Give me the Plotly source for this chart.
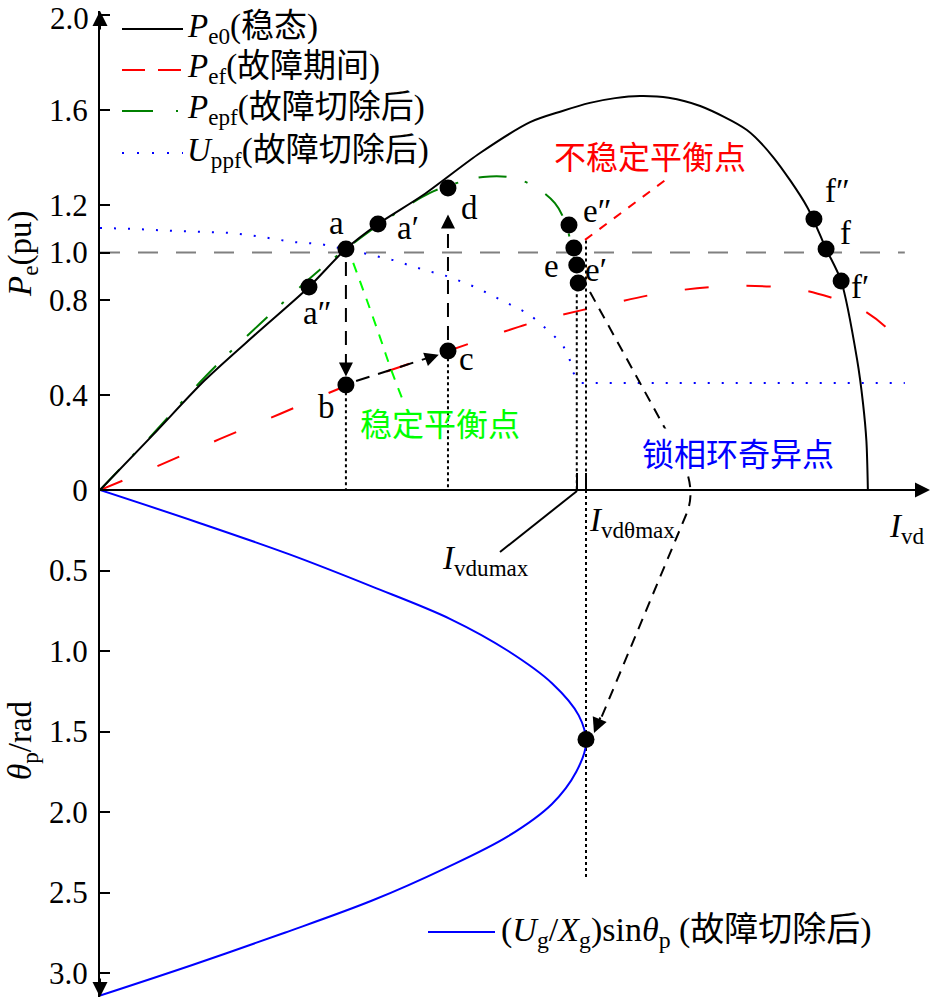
import plotly.graph_objects as go

# ---------------- data ----------------
# Ivd axis is normalised so that I_vd(theta max) = 1.0
pe0_ivd = [0, 0.109, 0.216, 0.323, 0.430, 0.506, 0.572, 0.665, 0.782, 0.885, 0.95, 1.008, 1.06,
           1.111, 1.17, 1.235, 1.331, 1.385, 1.455, 1.494, 1.525, 1.558, 1.570, 1.577, 1.580]
pe0_p = [0, 0.232, 0.463, 0.661, 0.855, 1.015, 1.12, 1.242, 1.419, 1.549, 1.595, 1.630, 1.650,
         1.659, 1.652, 1.617, 1.516, 1.402, 1.192, 1.015, 0.880, 0.547, 0.365, 0.205, 0]

pef_ivd = [0, 0.123, 0.247, 0.370, 0.506, 0.617, 0.716, 0.823, 0.909, 1.039, 1.169, 1.300,
           1.434, 1.508, 1.558, 1.617, 1.656]
pef_p = [0, 0.105, 0.215, 0.320, 0.438, 0.518, 0.585, 0.661, 0.716, 0.779, 0.834, 0.859,
         0.846, 0.808, 0.771, 0.686, 0.589]

pepf_ivd = [0, 0.109, 0.216, 0.329, 0.447, 0.506, 0.588, 0.679, 0.735, 0.788, 0.840, 0.885,
            0.936, 0.959, 0.975]
pepf_p = [0, 0.236, 0.476, 0.699, 0.918, 1.015, 1.137, 1.251, 1.293, 1.318, 1.318, 1.288,
          1.208, 1.116, 0.977]

uppf_ivd = [0, 0.062, 0.150, 0.274, 0.335, 0.397, 0.453, 0.541, 0.603, 0.660, 0.720, 0.776,
            0.829, 0.883, 0.928, 0.951, 0.965, 0.973, 0.988, 1.045, 1.656]
uppf_p = [1.103, 1.100, 1.091, 1.082, 1.065, 1.044, 1.036, 0.998, 0.968, 0.931, 0.897, 0.851,
          0.796, 0.741, 0.661, 0.615, 0.560, 0.497, 0.451, 0.451, 0.451]

ref_ivd = [0, 1.656]
ref_p = [1.0, 1.0]

theta_rad = [0, 0.2, 0.4, 0.6, 0.8, 1.0, 1.2, 1.4, 1.571, 1.75, 1.95, 2.15, 2.35, 2.55, 2.75,
             2.95, 3.14]
theta_ivd = [0, 0.20, 0.39, 0.56, 0.72, 0.84, 0.93, 0.985, 1.0, 0.98, 0.93, 0.84, 0.71, 0.56,
             0.38, 0.19, 0]

pt_names = ["a", "a′", "a″", "b", "c", "d", "e″", "e", "", "e′", "f″", "f", "f′"]
pt_ivd = [0.506, 0.572, 0.430, 0.506, 0.716, 0.716, 0.965, 0.975, 0.981, 0.984, 1.469, 1.494, 1.525]
pt_p = [1.015, 1.12, 0.855, 0.442, 0.585, 1.272, 1.116, 1.019, 0.947, 0.872, 1.141, 1.015, 0.880]

sing_ivd = [1.0]
sing_theta = [1.55]

ivd_umax = 0.981
ivd_thmax = 1.0

top_ticks = [0, 0.4, 0.8, 1.0, 1.2, 1.6, 2.0]
top_ticktext = ["0", "0.4", "0.8", "1.0", "1.2", "1.6", ""]   # "2.0" drawn as annotation
top_label = "2.0"
bot_ticks = [0.5, 1.0, 1.5, 2.0, 2.5, 3.0]
bot_ticktext = ["0.5", "1.0", "1.5", "2.0", "2.5", "3.0"]

# ---------------- layout geometry ----------------
W, H = 931, 1000
X0 = 100     # pixel column of origin
XS = 486     # px per Ivd unit
Y0 = 490     # pixel row of origin
PS = 237.5   # px per pu
TS = 161     # px per rad

SERIF = "Liberation Serif, Times New Roman, Noto Sans CJK SC, serif"
CJK = "Noto Sans CJK SC, sans-serif"


def PX(x):
    return x / W


def PY(y):
    return 1 - y / H


TOP = dict(xaxis="x", yaxis="y")
BOT = dict(xaxis="x2", yaxis="y2")

fig = go.Figure()


def add_line(x, y, color, width=2, dash="solid", shape="linear", axes=TOP, smoothing=1.0):
    fig.add_trace(go.Scatter(x=x, y=y, mode="lines",
                             line=dict(color=color, width=width, dash=dash, shape=shape,
                                       smoothing=smoothing),
                             hoverinfo="skip", showlegend=False, **axes))


# curves (top)
add_line(ref_ivd, ref_p, "#808080", 2, "20px,18px")
add_line(uppf_ivd, uppf_p, "#0000ff", 2, "2px,12px")
add_line(pef_ivd, pef_p, "#ff0000", 2, "24px,38px", "spline")
add_line(pepf_ivd, pepf_p, "#008000", 2, "28px,19px,3px,21px", "spline")
add_line(pe0_ivd, pe0_p, "#000000", 2, "solid", "spline", smoothing=0.8)

# dotted verticals
b_i, c_i = 3, 4
add_line([pt_ivd[b_i]] * 2, [pt_p[b_i] - 0.03, 0], "black", 2, "3px,3px")
add_line([pt_ivd[c_i]] * 2, [pt_p[c_i] - 0.03, 0], "black", 2, "3px,3px")
add_line([ivd_umax] * 2, [0.85, 0], "black", 2, "3px,3px")
add_line([ivd_thmax] * 2, [1.05, 0], "black", 2, "3px,3px")
add_line([ivd_thmax] * 2, [0, 2.41], "black", 2, "3px,3px", axes=BOT)

# dashed transition arrows (a->b, b->c, c->d)
add_line([0.506, 0.506], [0.96, 0.49], "black", 2, "14px,9px")
add_line([0.527, 0.690], [0.459, 0.566], "black", 2, "14px,9px")
add_line([0.716, 0.716], [0.632, 1.14], "black", 2, "14px,9px")

# leader for stable equilibrium (green)
add_line([0.521, 0.549, 0.576, 0.597, 0.623], [0.956, 0.80, 0.644, 0.518, 0.379],
         "#00ff00", 2, "10px,9px", "spline")
# leader for unstable equilibrium (red)
add_line([0.998, 1.163], [1.053, 1.305], "#ff0000", 2, "9px,9px")

# markers
fig.add_trace(go.Scatter(x=pt_ivd, y=pt_p, mode="markers",
                         marker=dict(size=17, color="black"), hoverinfo="skip",
                         showlegend=False, **TOP))

# bottom: theta curve
add_line(theta_ivd, theta_rad, "#0000ff", 2, "solid", "spline", axes=BOT)
fig.add_trace(go.Scatter(x=sing_ivd, y=sing_theta, mode="markers",
                         marker=dict(size=17, color="black"), hoverinfo="skip",
                         showlegend=False, **BOT))

shapes = []
# x axis line
shapes.append(dict(type="line", xref="paper", yref="paper", x0=PX(X0), x1=PX(922),
                   y0=PY(Y0), y1=PY(Y0), line=dict(color="black", width=2)))
# small solid marks at the axis
for xp in (577, 586):
    shapes.append(dict(type="line", xref="paper", yref="paper", x0=PX(xp), x1=PX(xp),
                       y0=PY(473), y1=PY(Y0), line=dict(color="black", width=2)))
# Ivdumax leader
shapes.append(dict(type="line", xref="paper", yref="paper", x0=PX(577), y0=PY(491),
                   x1=PX(500), y1=PY(552), line=dict(color="black", width=2)))
# singular point curved pointer
path = "M {},{} L {},{} Q {},{} {},{} L {},{}".format(
    PX(590), PY(292), PX(678), PY(452), PX(698), PY(488), PX(686), PY(515), PX(597), PY(728))
shapes.append(dict(type="path", xref="paper", yref="paper", path=path,
                   line=dict(color="black", width=2, dash="11px,8px")))

# legend samples
shapes.append(dict(type="line", xref="paper", yref="paper", x0=PX(122), x1=PX(183),
                   y0=PY(29), y1=PY(29), line=dict(color="black", width=2)))
shapes.append(dict(type="line", xref="paper", yref="paper", x0=PX(122), x1=PX(183),
                   y0=PY(70), y1=PY(70), line=dict(color="#ff0000", width=2, dash="23px,13px")))
shapes.append(dict(type="line", xref="paper", yref="paper", x0=PX(122), x1=PX(183),
                   y0=PY(111), y1=PY(111),
                   line=dict(color="#008000", width=2, dash="31px,23px,2px,30px")))
shapes.append(dict(type="line", xref="paper", yref="paper", x0=PX(122), x1=PX(183),
                   y0=PY(153), y1=PY(153), line=dict(color="#0000ff", width=2, dash="2px,13px")))
shapes.append(dict(type="line", xref="paper", yref="paper", x0=PX(428), x1=PX(495),
                   y0=PY(932), y1=PY(932), line=dict(color="#0000ff", width=2)))

ann = []


def arrow_paper(xp, yp, ax, ay):
    ann.append(dict(xref="paper", yref="paper", x=PX(xp), y=PY(yp), ax=ax, ay=ay, text="",
                    showarrow=True, arrowhead=2, arrowsize=1.5, arrowwidth=2,
                    arrowcolor="black"))


def arrow_data(x, y, ax, ay, axes="top"):
    xr, yr = ("x", "y") if axes == "top" else ("x2", "y2")
    ann.append(dict(xref=xr, yref=yr, x=x, y=y, ax=ax, ay=ay, text="", showarrow=True,
                    arrowhead=2, arrowsize=1.4, arrowwidth=2, arrowcolor="black"))


# axis arrows
arrow_paper(X0, 11, 0, 20)
arrow_paper(X0, 997, 0, -20)
arrow_paper(930, Y0, -20, 0)
# transition arrowheads
arrow_data(0.506, 0.478, 0, -14)
arrow_data(0.697, 0.570, -14, 5)
arrow_data(0.716, 1.16, 0, 14)
arrow_paper(594, 733, 7, -17)


def text(xp, yp, s, size=33, color="black", family=SERIF, xanchor="center", angle=0, bg=None):
    d = dict(xref="paper", yref="paper", x=PX(xp), y=PY(yp), text=s, showarrow=False,
             font=dict(size=size, color=color, family=family), xanchor=xanchor,
             yanchor="middle", textangle=angle, borderpad=0)
    if bg:
        d["bgcolor"] = bg
    ann.append(d)


# top tick label kept inside the page
ann.append(dict(xref="paper", yref="paper", x=PX(90), y=1.0, text=top_label, showarrow=False,
                xanchor="right", yanchor="top", borderpad=0,
                font=dict(size=31, family=SERIF, color="black")))

# point labels (pixel offsets from the point)
offs = [(-9, -26), (30, 4), (8, 26), (-19, 22), (19, 8), (22, 20), (28, -14), (-22, 18),
        (0, 0), (18, -13), (24, -28), (19, -16), (19, 6)]
for name, x, y, (dx, dy) in zip(pt_names, pt_ivd, pt_p, offs):
    if not name:
        continue
    ann.append(dict(xref="x", yref="y", x=x, y=y, text=name, showarrow=False,
                    xshift=dx, yshift=-dy, font=dict(size=33, family=SERIF, color="black")))

# legend texts
text(186, 28, "<i>P</i><sub>e0</sub>(稳态)", xanchor="left")
text(186, 69, "<i>P</i><sub>ef</sub>(故障期间)", xanchor="left")
text(186, 110, "<i>P</i><sub>epf</sub>(故障切除后)", xanchor="left")
text(186, 152, "<i>U</i><sub>ppf</sub>(故障切除后)", xanchor="left")
text(500, 932, "(<i>U</i><sub>g</sub>/<i>X</i><sub>g</sub>)sin<i>θ</i><sub>p</sub> (故障切除后)",
     size=34, xanchor="left")

# callouts
text(650, 155, "不稳定平衡点", 32, "#ff0000", CJK)
text(440, 422, "稳定平衡点", 32, "#00ff00", CJK)
text(738, 452, "锁相环奇异点", 32, "#0000ff", CJK, bg="white")

# axis labels
text(888, 528, "<i>I</i><sub>vd</sub>", xanchor="left")
text(588, 522, "<i>I</i><sub>vdθmax</sub>", xanchor="left")
text(441, 560, "<i>I</i><sub>vdumax</sub>", xanchor="left")
text(22, 254, "<i>P</i><sub>e</sub>(pu)", angle=-90)
text(22, 740, "<i>θ</i><sub>p</sub>/rad", angle=-90)

axis_common = dict(showgrid=False, zeroline=False, showline=True, linecolor="black",
                   linewidth=2, ticks="inside", ticklen=10, tickwidth=2, tickcolor="black",
                   tickfont=dict(size=31, family=SERIF, color="black"), ticklabelstandoff=4,
                   automargin=False, ticklabeloverflow="allow")

fig.update_layout(
    width=W, height=H, margin=dict(l=0, r=0, t=0, b=0, autoexpand=False),
    paper_bgcolor="white", plot_bgcolor="rgba(0,0,0,0)",
    showlegend=False,
    xaxis=dict(domain=[X0 / W, 1], range=[0, (W - X0) / XS], visible=False, anchor="y",
               automargin=False),
    xaxis2=dict(domain=[X0 / W, 1], range=[0, (W - X0) / XS], visible=False, anchor="y2",
                automargin=False),
    yaxis=dict(domain=[1 - Y0 / H, 1 - 11 / H], range=[0, (Y0 - 11) / PS], anchor="x",
               tickvals=top_ticks, ticktext=top_ticktext, **axis_common),
    yaxis2=dict(domain=[1 - 997 / H, 1 - Y0 / H], range=[(997 - Y0) / TS, 0], anchor="x2",
                tickvals=bot_ticks, ticktext=bot_ticktext, **axis_common),
    shapes=shapes, annotations=ann,
)

fig.write_html("out.html")
